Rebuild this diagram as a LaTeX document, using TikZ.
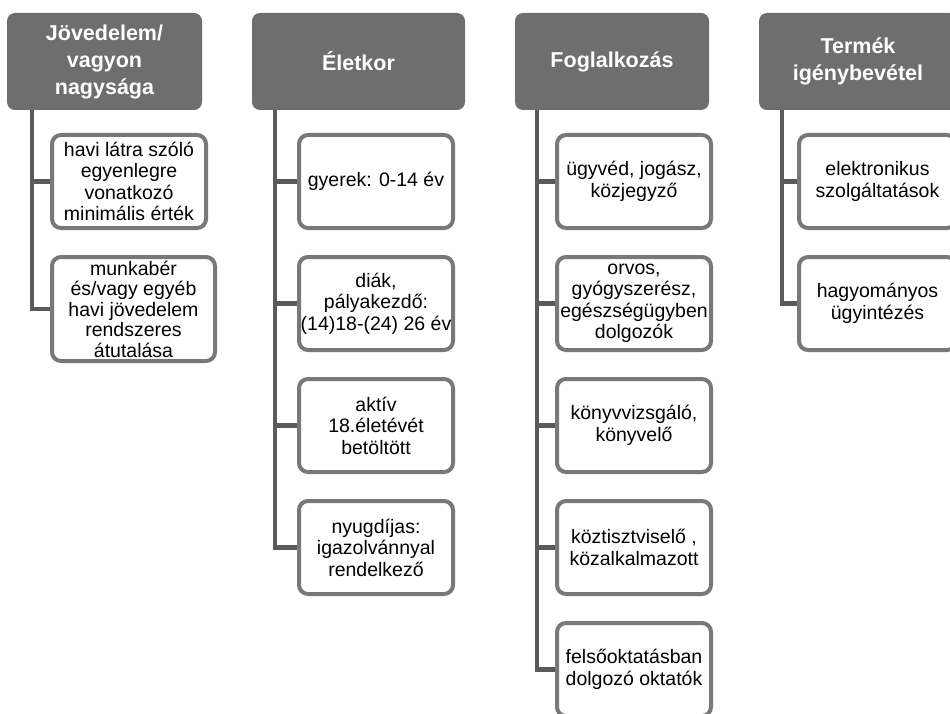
\documentclass[tikz,border=0pt]{standalone}
\usepackage{fontspec}
\setmainfont{Liberation Sans}
\usetikzlibrary{backgrounds}
\definecolor{hdrgray}{HTML}{6E6E6E}
\definecolor{boxgray}{HTML}{787878}
\definecolor{linegray}{HTML}{5A5A5A}
\tikzset{
  hdr/.style={fill=hdrgray, rounded corners=8pt, text=white, align=center,
    inner sep=0pt, minimum height=97pt,
    font=\fontsize{21.5}{27}\selectfont\bfseries},
  leaf/.style={draw=boxgray, line width=4pt, fill=white, rounded corners=9pt,
    align=center, inner sep=0pt, minimum width=154pt, minimum height=93pt,
    font=\fontsize{19.5}{21.5}\selectfont},
  conn/.style={draw=linegray, line width=4.5pt}
}
\begin{document}
\begin{tikzpicture}[x=1pt,y=-1pt]
\useasboundingbox (0,0) rectangle (950,714);
\clip (0,0) rectangle (950,714);

% headers
\node[hdr, minimum width=195pt] (h1) at (104.5,61.5) {Jövedelem/\\vagyon\\nagysága};
\node[hdr, minimum width=213pt] (h2) at (358.5,61.5) {Életkor};
\node[hdr, minimum width=194pt] (h3) at (612,61.5) {Foglalkozás};
\node[hdr, minimum width=198pt] (h4) at (858,61.5) {Termék\\igénybevétel};

% column 1
\node[leaf] (a1) at (129,181.5) {havi látra szóló\\egyenlegre\\vonatkozó\\minimális érték};
\node[leaf, minimum width=163pt, minimum height=104pt,
  font=\fontsize{19.5}{20.5}\selectfont] (a2) at (133.5,309) {munkabér\\és/vagy egyéb\\havi jövedelem\\rendszeres\\átutalása};

% column 2
\node[leaf] (b1) at (376,181.5) {gyerek: 0-14 év};
\node[leaf] (b2) at (376,303.5) {diák,\\pályakezdő:\\(14)18-(24) 26 év};
\node[leaf] (b3) at (376,425.5) {aktív\\18.életévét\\betöltött};
\node[leaf] (b4) at (376,547.5) {nyugdíjas:\\igazolvánnyal\\rendelkező};

% column 3
\node[leaf] (c1) at (634,181.5) {ügyvéd, jogász,\\közjegyző};
\node[leaf] (c2) at (634,303.5) {orvos,\\gyógyszerész,\\egészségügyben\\dolgozók};
\node[leaf] (c3) at (634,425.5) {könyvvizsgáló,\\könyvelő};
\node[leaf] (c4) at (634,547.5) {köztisztviselő ,\\közalkalmazott};
\node[leaf] (c5) at (634,669.5) {felsőoktatásban\\dolgozó oktatók};

% column 4
\node[leaf, minimum width=157pt] (d1) at (877.5,181.5) {elektronikus\\szolgáltatások};
\node[leaf, minimum width=157pt] (d2) at (877.5,303.5) {hagyományos\\ügyintézés};

% spine start points
\coordinate (s1) at ([xshift=25pt]h1.south west);
\coordinate (s2) at ([xshift=23pt]h2.south west);
\coordinate (s3) at ([xshift=22pt]h3.south west);
\coordinate (s4) at ([xshift=23pt]h4.south west);

\begin{scope}[on background layer]
\draw[conn] (s1) |- (a2.west);
\draw[conn] (s1 |- a1.west) -- (a1.west);

\draw[conn] (s2) |- (b4.west);
\foreach \n in {b1,b2,b3} \draw[conn] (s2 |- \n.west) -- (\n.west);

\draw[conn] (s3) |- (c5.west);
\foreach \n in {c1,c2,c3,c4} \draw[conn] (s3 |- \n.west) -- (\n.west);

\draw[conn] (s4) |- (d2.west);
\draw[conn] (s4 |- d1.west) -- (d1.west);
\end{scope}
\end{tikzpicture}
\end{document}
